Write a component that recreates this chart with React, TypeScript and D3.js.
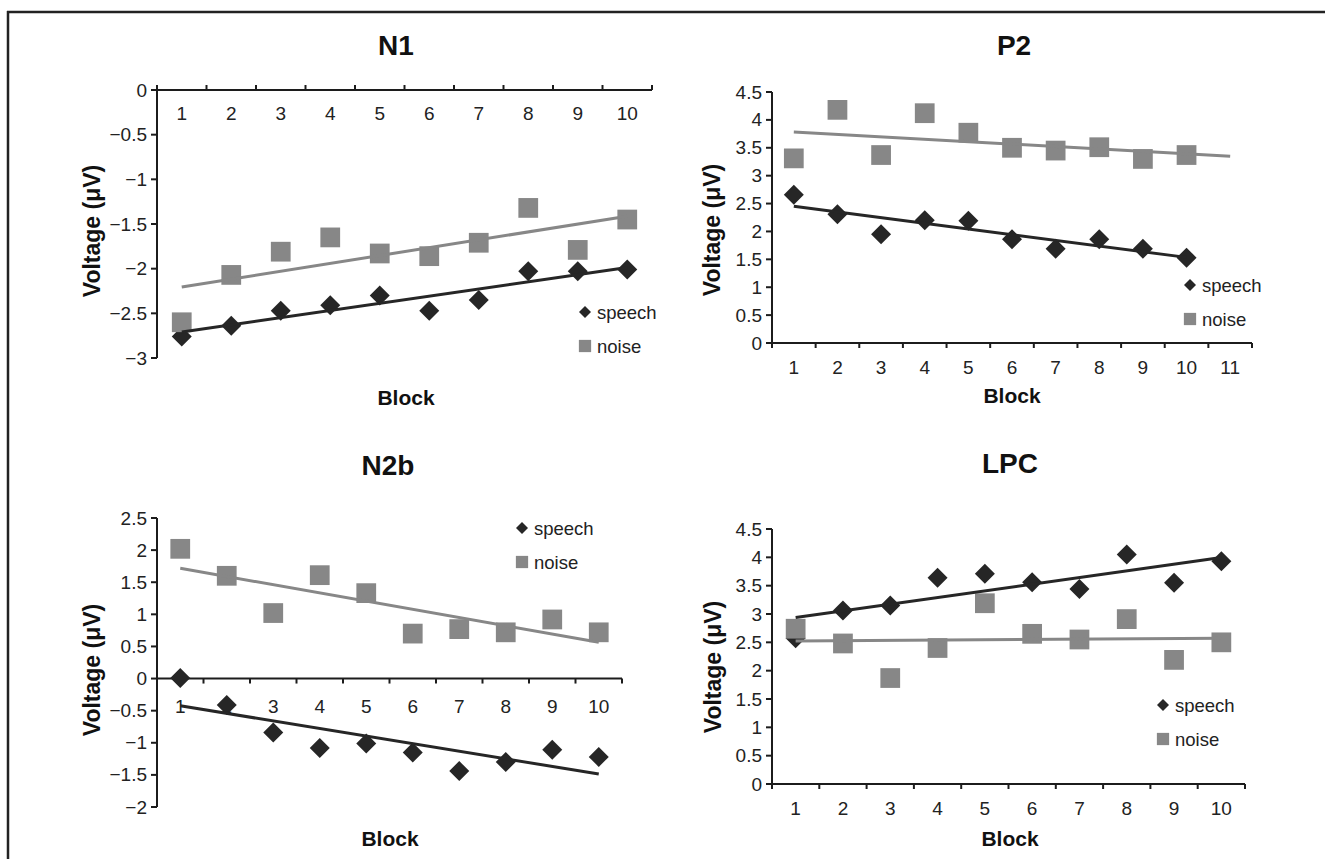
import React from "react";
import * as d3 from "d3";

// ---------- data ----------
const blocks10 = [1, 2, 3, 4, 5, 6, 7, 8, 9, 10];
const blocks11 = [1, 2, 3, 4, 5, 6, 7, 8, 9, 10, 11];

const n1Speech = [-2.76, -2.64, -2.47, -2.41, -2.3, -2.47, -2.35, -2.03, -2.03, -2.01];
const n1Noise = [-2.6, -2.07, -1.81, -1.65, -1.83, -1.86, -1.71, -1.32, -1.79, -1.45];
const p2Speech = [2.66, 2.31, 1.95, 2.2, 2.19, 1.86, 1.69, 1.86, 1.69, 1.53];
const p2Noise = [3.31, 4.18, 3.37, 4.12, 3.77, 3.5, 3.45, 3.51, 3.3, 3.37];
const n2bSpeech = [0.01, -0.41, -0.84, -1.08, -1.01, -1.15, -1.44, -1.3, -1.11, -1.22];
const n2bNoise = [2.02, 1.6, 1.02, 1.61, 1.33, 0.7, 0.77, 0.72, 0.92, 0.72];
const lpcSpeech = [2.57, 3.06, 3.15, 3.64, 3.71, 3.56, 3.44, 4.05, 3.55, 3.93];
const lpcNoise = [2.74, 2.48, 1.87, 2.4, 3.19, 2.65, 2.55, 2.91, 2.19, 2.5];

const n1Ticks = [0, -0.5, -1, -1.5, -2, -2.5, -3];
const p2Ticks = [0, 0.5, 1, 1.5, 2, 2.5, 3, 3.5, 4, 4.5];
const n2bTicks = [2.5, 2, 1.5, 1, 0.5, 0, -0.5, -1, -1.5, -2];
const lpcTicks = [0, 0.5, 1, 1.5, 2, 2.5, 3, 3.5, 4, 4.5];

const seriesNames = ["speech", "noise"];
const yAxisTitle = "Voltage (μV)";
const xAxisTitle = "Block";

// ---------- style ----------
const FONT = "'Liberation Sans', Arial, Helvetica, sans-serif";
const DARK = "#262626";
const GREY = "#878787";
const AXIS = "#1c1c1c";

function regression(xs: number[], ys: number[]) {
  const mx = d3.mean(xs) as number;
  const my = d3.mean(ys) as number;
  let num = 0;
  let den = 0;
  xs.forEach((x, i) => {
    num += (x - mx) * (ys[i] - my);
    den += (x - mx) * (x - mx);
  });
  const slope = num / den;
  return (x: number) => my + slope * (x - mx);
}

const fmt = (v: number) => String(v).replace("-", "\u2212");

type PanelProps = {
  title: string;
  cats: number[];
  speech: number[];
  noise: number[];
  ticks: number[];
  x0: number;
  x1: number;
  yTop: number;
  yBot: number;
  axisAt: number;
  tickDir: number;
  labelOff: number;
  titleX: number;
  titleY: number;
  blockX: number;
  blockY: number;
  yLabX: number;
  yLabY: number;
  legX: number;
  legY: number;
  noiseEnd: number;
};

function Panel(p: PanelProps) {
  const yMin = d3.min(p.ticks) as number;
  const yMax = d3.max(p.ticks) as number;
  const x = d3.scaleBand<number>().domain(p.cats).range([p.x0, p.x1]).padding(0);
  const bw = x.bandwidth();
  const cx = (c: number) => (x(c) as number) + bw / 2;
  const y = d3.scaleLinear().domain([yMin, yMax]).range([p.yBot, p.yTop]);
  const axisY = y(p.axisAt);

  const diamond = d3.symbol().type(d3.symbolSquare).size(200)();
  const square = d3.symbol().type(d3.symbolSquare).size(390)();
  const legDiamond = d3.symbol().type(d3.symbolSquare).size(72)();
  const legSquare = d3.symbol().type(d3.symbolSquare).size(150)();

  const xs = blocks10;
  const fs = regression(xs, p.speech);
  const fn = regression(xs, p.noise);

  const speechLine = d3
    .line<number>()
    .x((d) => cx(d))
    .y((d) => y(fs(d)))([1, 10]);
  const noiseLine = d3
    .line<number>()
    .x((d) => cx(d))
    .y((d) => y(fn(d)))([1, p.noiseEnd]);

  const boundaries = d3.range(p.cats.length + 1).map((i) => p.x0 + i * bw);

  return (
    <g fontFamily={FONT}>
      <text x={p.titleX} y={p.titleY} textAnchor="middle" dominantBaseline="central" fontSize={28} fontWeight="bold" fill="#111">
        {p.title}
      </text>
      {/* y axis */}
      <line x1={p.x0} x2={p.x0} y1={y(yMax)} y2={y(yMin)} stroke={AXIS} strokeWidth={2} />
      {p.ticks.map((t) => (
        <g key={t}>
          <line x1={p.x0 - 6} x2={p.x0} y1={y(t)} y2={y(t)} stroke={AXIS} strokeWidth={2} />
          <text x={p.x0 - 10} y={y(t)} textAnchor="end" dominantBaseline="central" fontSize={19} fill="#222">
            {fmt(t)}
          </text>
        </g>
      ))}
      {/* x axis */}
      <line x1={p.x0} x2={p.x1} y1={axisY} y2={axisY} stroke={AXIS} strokeWidth={2} />
      {boundaries.map((bx, i) => (
        <line key={i} x1={bx} x2={bx} y1={axisY} y2={axisY + p.tickDir * 5} stroke={AXIS} strokeWidth={2} />
      ))}
      {p.cats.map((c) => (
        <text key={c} x={cx(c)} y={axisY + p.labelOff} textAnchor="middle" dominantBaseline="central" fontSize={19} fill="#222">
          {c}
        </text>
      ))}
      {/* markers */}
      {p.speech.map((v, i) => (
        <path key={"s" + i} d={diamond as string} transform={`translate(${cx(xs[i])},${y(v)}) rotate(45)`} fill={DARK} />
      ))}
      {p.noise.map((v, i) => (
        <path key={"n" + i} d={square as string} transform={`translate(${cx(xs[i])},${y(v)})`} fill={GREY} />
      ))}
      {/* trend lines */}
      <path d={noiseLine as string} stroke={GREY} strokeWidth={3} fill="none" />
      <path d={speechLine as string} stroke={DARK} strokeWidth={3} fill="none" />
      {/* legend */}
      <path d={legDiamond as string} transform={`translate(${p.legX},${p.legY}) rotate(45)`} fill={DARK} />
      <text x={p.legX + 12} y={p.legY} dominantBaseline="central" fontSize={18.5} fill="#222">
        {seriesNames[0]}
      </text>
      <path d={legSquare as string} transform={`translate(${p.legX},${p.legY + 34})`} fill={GREY} />
      <text x={p.legX + 12} y={p.legY + 34} dominantBaseline="central" fontSize={18.5} fill="#222">
        {seriesNames[1]}
      </text>
      {/* axis titles */}
      <text x={p.blockX} y={p.blockY} textAnchor="middle" dominantBaseline="central" fontSize={21} fontWeight="bold" fill="#111">
        {xAxisTitle}
      </text>
      <text
        transform={`translate(${p.yLabX},${p.yLabY}) rotate(-90)`}
        textAnchor="middle"
        dominantBaseline="central"
        fontSize={23}
        fontWeight="bold"
        fill="#111"
      >
        {yAxisTitle}
      </text>
    </g>
  );
}

export default function App() {
  return (
    <svg width={1325} height={859} style={{ position: "absolute", left: 0, top: 0, background: "#fff" }}>
      <rect x={0} y={0} width={1325} height={859} fill="#fff" />
      <line x1={7} x2={1325} y1={12} y2={12} stroke="#222" strokeWidth={2.5} />
      <line x1={8} x2={8} y1={11} y2={859} stroke="#222" strokeWidth={2.5} />
      <Panel
        title="N1" cats={blocks10} speech={n1Speech} noise={n1Noise} ticks={n1Ticks}
        x0={157} x1={652} yTop={90} yBot={358} axisAt={0} tickDir={-1} labelOff={23}
        titleX={396} titleY={45} blockX={406} blockY={397} yLabX={92} yLabY={231}
        legX={585} legY={312} noiseEnd={10}
      />
      <Panel
        title="P2" cats={blocks11} speech={p2Speech} noise={p2Noise} ticks={p2Ticks}
        x0={772} x1={1252} yTop={92} yBot={343} axisAt={0} tickDir={1} labelOff={24}
        titleX={1014} titleY={45} blockX={1012} blockY={395} yLabX={712} yLabY={230}
        legX={1190} legY={285} noiseEnd={11}
      />
      <Panel
        title="N2b" cats={blocks10} speech={n2bSpeech} noise={n2bNoise} ticks={n2bTicks}
        x0={157} x1={622} yTop={518} yBot={807} axisAt={0} tickDir={1} labelOff={28}
        titleX={388} titleY={465} blockX={390} blockY={838} yLabX={92} yLabY={670}
        legX={522} legY={528} noiseEnd={10}
      />
      <Panel
        title="LPC" cats={blocks10} speech={lpcSpeech} noise={lpcNoise} ticks={lpcTicks}
        x0={772} x1={1245} yTop={529} yBot={784} axisAt={0} tickDir={1} labelOff={24}
        titleX={1010} titleY={463} blockX={1010} blockY={838} yLabX={713} yLabY={667}
        legX={1163} legY={705} noiseEnd={10}
      />
    </svg>
  );
}
